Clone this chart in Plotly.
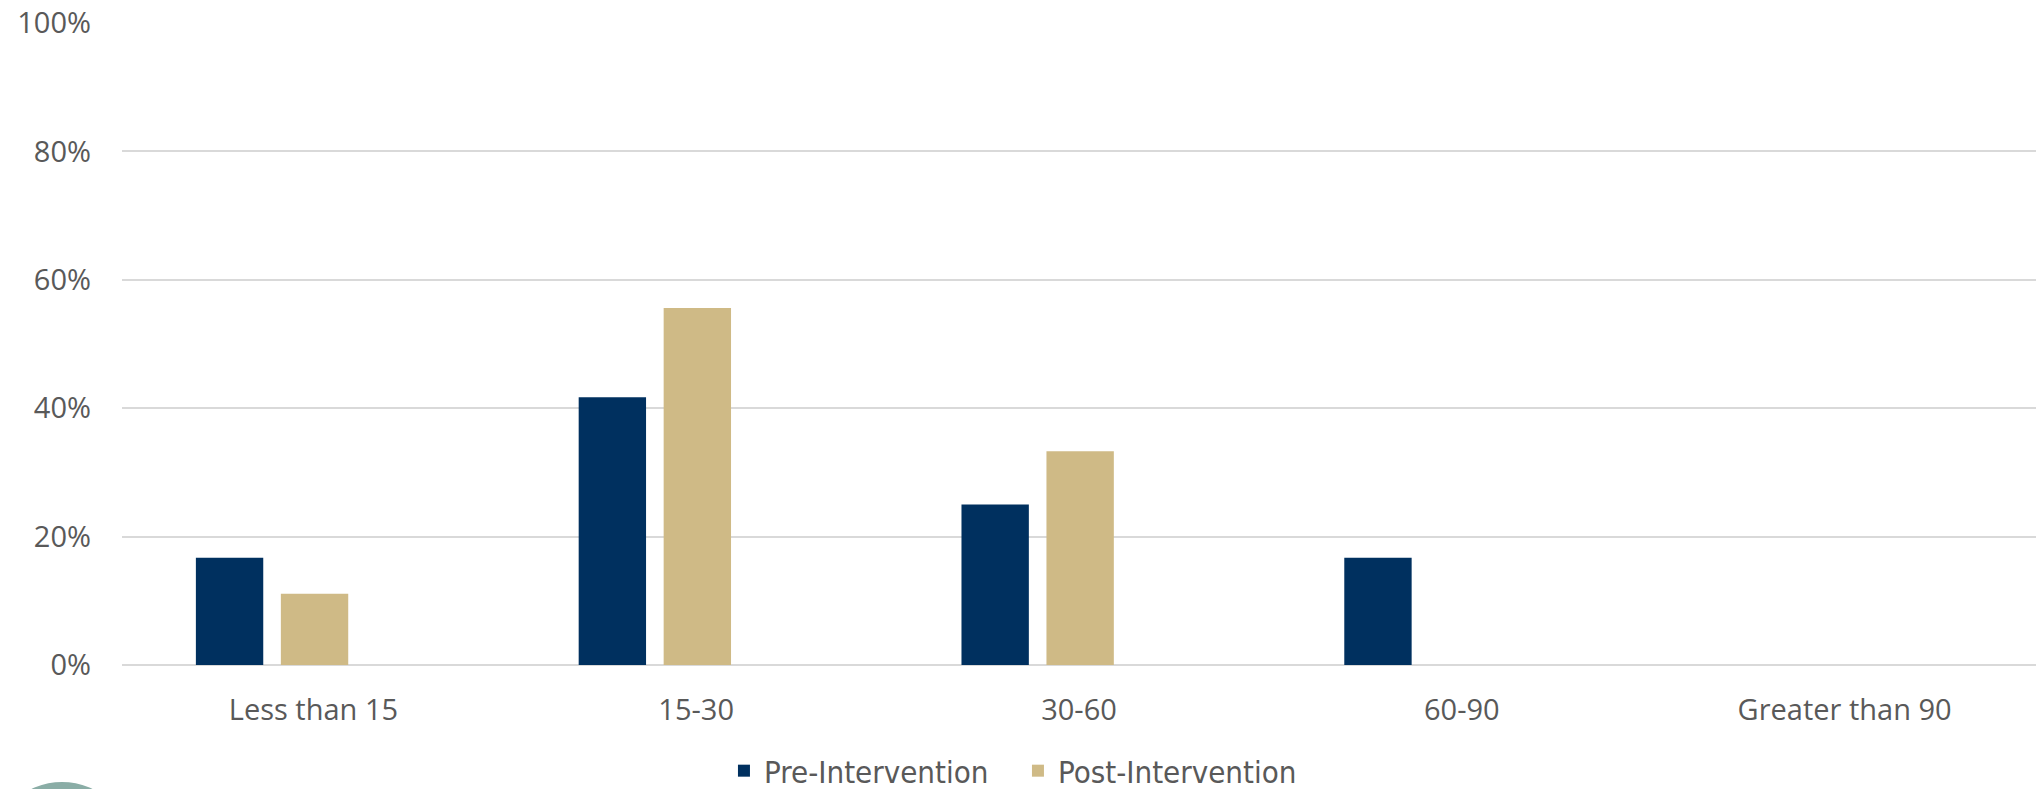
import plotly.graph_objects as go

# Share of respondents in each time band (minutes), before and after the intervention
categories = ["Less than 15", "15-30", "30-60", "60-90", "Greater than 90"]
pre_intervention = [16.7, 41.7, 25.0, 16.7, 0.0]
post_intervention = [11.1, 55.6, 33.3, 0.0, 0.0]
y_ticks = [0, 20, 40, 60, 80, 100]
y_tick_labels = ["0%", "20%", "40%", "60%", "80%", "100%"]

NAVY = "#00305F"
GOLD = "#CFBA86"
GRID = "#D9D9D9"
TEXT = "#595959"

W, H = 2036, 789
M_L, M_R, M_T, M_B = 122, 0, 23, 124

fig = go.Figure()
fig.add_trace(go.Bar(
    x=categories, y=pre_intervention, name="Pre-Intervention",
    marker=dict(color=NAVY, line=dict(width=0)),
    width=0.176, offset=-0.307,
))
fig.add_trace(go.Bar(
    x=categories, y=post_intervention, name="Post-Intervention",
    marker=dict(color=GOLD, line=dict(width=0)),
    width=0.176, offset=-0.085,
))

# decorative disc peeking in at the lower-left corner
pw = W - M_L - M_R
ph = H - M_T - M_B
cx, cy, r = 62, 852, 70
fig.add_shape(
    type="circle", xref="paper", yref="paper",
    x0=(cx - r - M_L) / pw, x1=(cx + r - M_L) / pw,
    y0=(H - M_B - (cy + r)) / ph, y1=(H - M_B - (cy - r)) / ph,
    fillcolor="#8AADA6", line=dict(width=0), layer="above",
)

fig.update_layout(
    width=W, height=H,
    margin=dict(l=M_L, r=M_R, t=M_T, b=M_B, pad=0, autoexpand=False),
    paper_bgcolor="white", plot_bgcolor="white",
    font=dict(family="Open Sans, Inter, sans-serif", size=29, color=TEXT),
    showlegend=True,
    legend=dict(
        orientation="h", x=0.3145, xanchor="left",
        yref="container", y=0.057, yanchor="top",
        font=dict(family="Liberation Sans Narrow, DejaVu Sans Condensed, Roboto, sans-serif",
                  size=31, color=TEXT),
        itemwidth=30, entrywidth=249, entrywidthmode="pixels",
        bgcolor="rgba(0,0,0,0)",
    ),
    xaxis=dict(
        type="category", showgrid=False, showline=False, ticks="",
        ticklabelstandoff=25, tickfont=dict(size=29, color=TEXT),
    ),
    yaxis=dict(
        range=[0, 100], tickvals=y_ticks, ticktext=y_tick_labels,
        showgrid=True, gridcolor=GRID, gridwidth=1.6,
        zeroline=True, zerolinecolor=GRID, zerolinewidth=1.6,
        showline=False, ticks="", ticklabelstandoff=30,
        tickfont=dict(size=29, color=TEXT),
    ),
)

fig.write_html("out.html")
